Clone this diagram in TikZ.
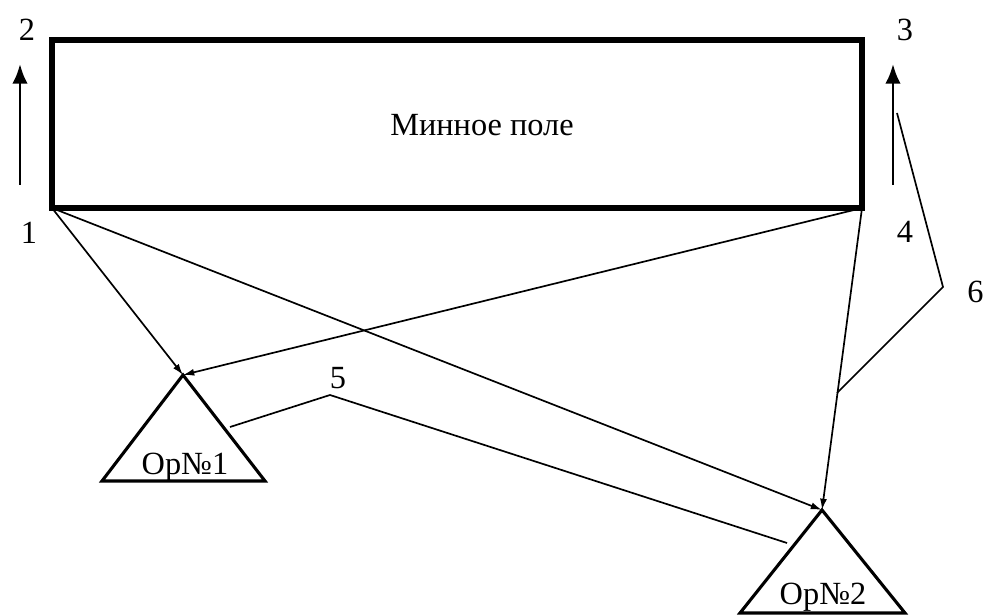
\documentclass[tikz,border=0pt]{standalone}
\usepackage{fontspec}
\setmainfont{Liberation Serif}
\usetikzlibrary{arrows.meta}
\begin{document}
\begin{tikzpicture}[x=0.025cm,y=-0.025cm,
    etichetta/.style={font=\fontsize{23}{27}\selectfont},
    freccia/.style={line width=1.2pt,-{Latex[length=8pt,width=5pt]}},
    richiamo/.style={line width=1.2pt},
    direzione/.style={line width=2pt,-{Latex[length=14pt,width=11pt]}}]
        \useasboundingbox (0,0) rectangle (984,615);

        % Campo minato
        \coordinate (c2) at (52,40);
        \coordinate (c1) at (52,208);
        \coordinate (c4) at (862,208);
        \coordinate (c3) at (862,40);
        \draw[line width=4.5pt] (c2) rectangle (c4);
        \node[etichetta] (campo) at (482,125) {Минное поле};

        % Osservatori
        \coordinate (a1) at (183,375);
        \coordinate (a2) at (822,510);
        \draw[line width=2.2pt,line join=miter] (a1) -- (102,481) -- (265,481) -- cycle;
        \draw[line width=2.2pt,line join=miter] (a2) -- (740,613) -- (905,613) -- cycle;
        \node[etichetta] (op1) at (185,467) {Ор№1};
        \node[etichetta] (op2) at (823,597) {Ор№2};

        % Frecce verso gli osservatori
        \draw[freccia] (c1) -- (a1);
        \draw[freccia] (c1) -- (a2);
        \draw[freccia] (c4) -- (a1);
        \draw[freccia] (c4) -- (a2);

        % Direzioni lungo i lati
        \coordinate (s1) at (20,185);
        \coordinate (s2) at (20,64);
        \coordinate (d1) at (893,185);
        \coordinate (d2) at (893,64);
        \draw[direzione] (s1) -- (s2);
        \draw[direzione] (d1) -- (d2);

        % Numeri dei punti
        \node[etichetta] (n2) at (27,30) {2};
        \node[etichetta] (n1) at (29,233) {1};
        \node[etichetta] (n3) at (905,30) {3};
        \node[etichetta] (n4) at (905,232) {4};
        \node[etichetta] (n5) at (338,378) {5};
        \node[etichetta,anchor=west,inner sep=0pt] (n6) at (967,292) {6};

        % Linee di richiamo
        \coordinate (r5) at (330,395);
        \coordinate (r6) at (943,287);
        \draw[richiamo] (230,427) -- (r5) -- (787,543);
        \draw[richiamo] (897,113) -- (r6) -- (837,393);
\end{tikzpicture}
\end{document}
